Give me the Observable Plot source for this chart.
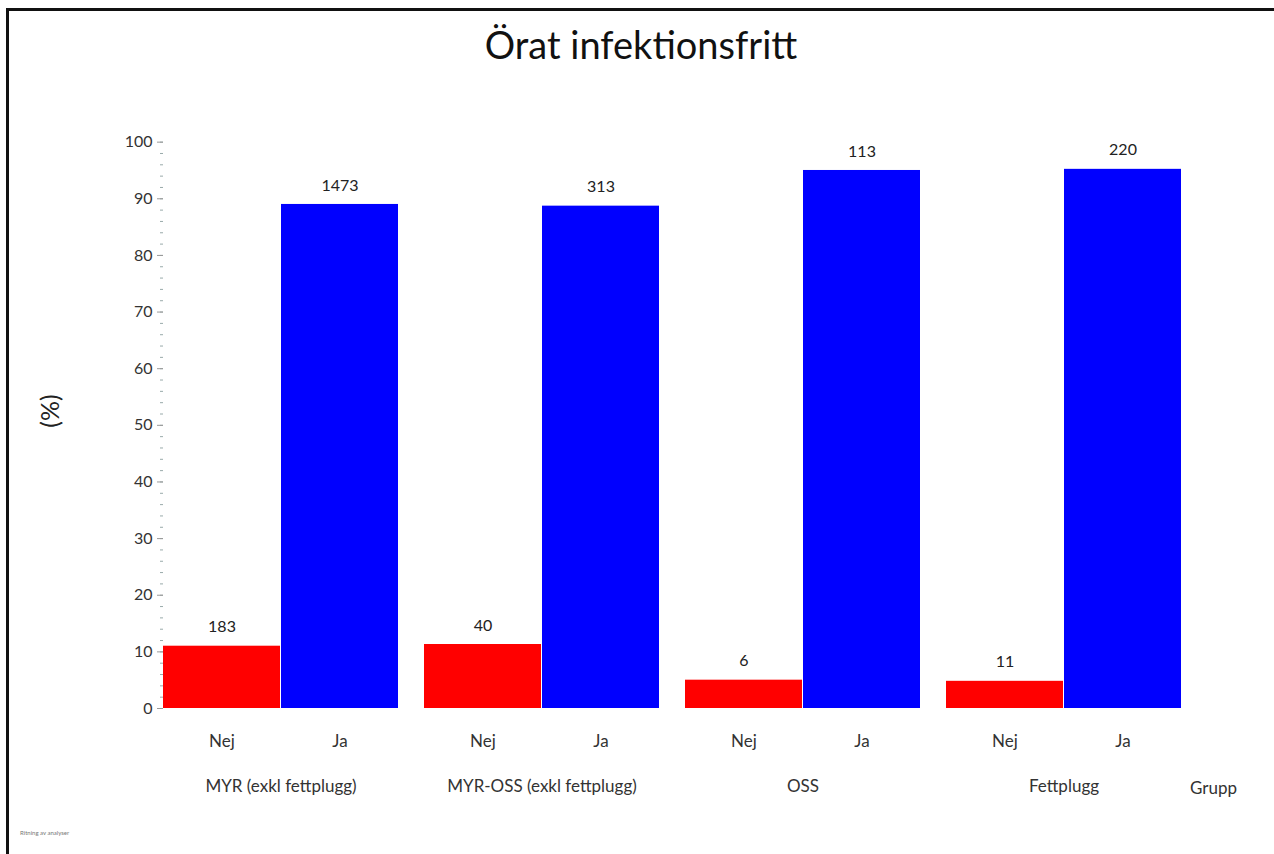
<!DOCTYPE html>
<html>
<head>
<meta charset="utf-8">
<script src="https://cdn.jsdelivr.net/npm/d3@7"></script>
<script src="https://cdn.jsdelivr.net/npm/@observablehq/plot@0.6"></script>
<style>
  html, body { margin: 0; padding: 0; background: #fff; width: 1274px; height: 854px; overflow: hidden; }
  #frame { position: absolute; left: 6px; top: 8px; width: 1300px; height: 900px;
           border-top: 3px solid #111; border-left: 3px solid #111; }
  #title { position: absolute; left: 0; width: 1282px; top: 21px; text-align: center;
           font-family: Lato, "Open Sans", sans-serif; font-size: 38px; color: #111; }
  #grupp { position: absolute; left: 1190px; top: 777px; font-family: Lato, sans-serif;
           font-size: 17px; color: #333; }
  #note { position: absolute; left: 20px; top: 829px; font-family: Lato, sans-serif;
          font-size: 6px; color: #777; }
  #chart { position: absolute; left: 0; top: 0; }
</style>
</head>
<body>
<div id="frame"></div>
<div id="title">Örat infektionsfritt</div>
<div id="chart"></div>
<div id="grupp">Grupp</div>
<div id="note">Ritning av analyser</div>
<script>
const groups = ["MYR (exkl fettplugg)", "MYR-OSS (exkl fettplugg)", "OSS", "Fettplugg"];
const answers = ["Nej", "Ja"];
const nejCount = [183, 40, 6, 11];
const jaCount = [1473, 313, 113, 220];
const nejPct = [11.0, 11.3, 5.0, 4.8];
const jaPct = [89.0, 88.7, 95.0, 95.2];
const yTicks = [0, 10, 20, 30, 40, 50, 60, 70, 80, 90, 100];

const rows = [];
groups.forEach((g, i) => {
  rows.push({group: g, answer: "Nej", pct: nejPct[i], n: nejCount[i]});
  rows.push({group: g, answer: "Ja", pct: jaPct[i], n: jaCount[i]});
});

const chart = Plot.plot({
  width: 1274,
  height: 854,
  marginTop: 119,
  marginBottom: 146,
  marginLeft: 163,
  marginRight: 92,
  style: {fontFamily: "Lato, 'Open Sans', sans-serif", fontSize: "16px", background: "transparent"},
  fx: {domain: groups, paddingInner: 0.098, paddingOuter: 0, label: null},
  x: {domain: answers, paddingInner: 0.01, paddingOuter: 0, label: null},
  y: {domain: [0, 104], label: null},
  color: {domain: answers, range: ["#ff0000", "#0000ff"]},
  marks: [
    Plot.axisY(d3.range(0, 101, 2), {tickSize: 3, text: null, stroke: "#9aa"}),
    Plot.axisY(yTicks, {tickSize: 6, tickPadding: 5, stroke: "#999", fill: "#333", fontSize: 16}),
    Plot.ruleX([0], {frameAnchor: "left", facetAnchor: "left", stroke: "#ccc", strokeWidth: 2}),
    Plot.barY(rows, {fx: "group", x: "answer", y: "pct", fill: "answer"}),
    Plot.text(rows, {fx: "group", x: "answer", y: "pct", text: d => String(d.n), dy: -19, fill: "#222", fontSize: 16}),
    Plot.axisX({tickSize: 0, tickPadding: 26, fill: "#333", fontSize: 17}),
    Plot.axisFx({anchor: "bottom", tickSize: 0, tickPadding: 71, fill: "#333", fontSize: 17, label: null})
  ]
});
document.getElementById("chart").appendChild(chart);

const yAxisLabel = document.createElement("div");
yAxisLabel.textContent = "(%)";
Object.assign(yAxisLabel.style, {position: "absolute", left: "32px", top: "396px",
  transform: "rotate(-90deg)", fontFamily: "Lato, sans-serif", fontSize: "25px", color: "#222"});
document.body.appendChild(yAxisLabel);
</script>
</body>
</html>
